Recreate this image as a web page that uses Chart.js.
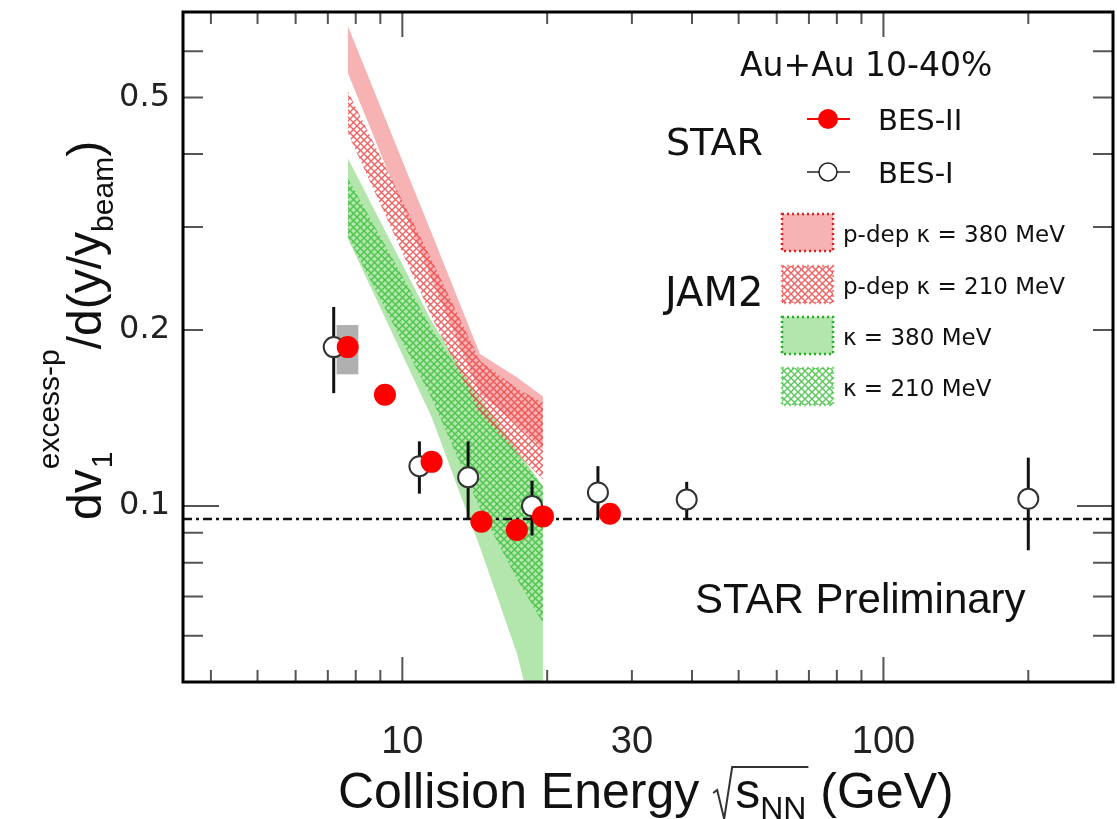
<!DOCTYPE html>
<html>
<head>
<meta charset="utf-8">
<script src="https://cdn.jsdelivr.net/npm/chart.js@4.4.1/dist/chart.umd.min.js"></script>
<style>
  body { margin: 0; background: #fff; }
  canvas { display: block; }
</style>
</head>
<body>
<canvas id="myChart" width="1117" height="819"></canvas>
<script>
// STAR BES-II points (red)
const besIIEnergy = [7.7, 9.2, 11.5, 14.6, 17.3, 19.6, 27];
const besIIValue = [0.187, 0.155, 0.119, 0.094, 0.091, 0.096, 0.097];

// STAR BES-I points (open), drawn a little left of the nominal energy where they share one with BES-II
const besIEnergy = [7.2, 10.85, 13.7, 18.6, 25.5, 39, 200];
const besIValue = [0.187, 0.117, 0.112, 0.100, 0.1055, 0.1026, 0.1029];
const besIErrLow = [0.156, 0.105, 0.095, 0.089, 0.095, 0.095, 0.084];
const besIErrHigh = [0.219, 0.129, 0.129, 0.1105, 0.117, 0.110, 0.121];

// systematic box on the 7.7 GeV point
const sysBoxX = [7.3, 8.1];
const sysBoxY = [0.168, 0.204];

// dash-dotted reference level
const refLevel = 0.095;

// JAM2 bands
const bandEnergy = [7.7, 11.5, 14.5, 17.3, 19.6];
const pdep380Low = [0.551, 0.245, 0.156, 0.138, 0.125];
const pdep380High = [0.663, 0.293, 0.182, 0.166, 0.154];
const pdep210Low = [0.435, 0.211, 0.144, 0.123, 0.111];
const pdep210High = [0.513, 0.264, 0.177, 0.159, 0.150];
const k380Low = [0.287, 0.142, 0.085, 0.056, 0.037];
const k380High = [0.394, 0.207, 0.153, 0.125, 0.108];
const k210Low = [0.289, 0.153, 0.099, 0.075, 0.063];
const k210High = [0.364, 0.201, 0.150, 0.123, 0.108];

// axis ticks
const xLabels = [10, 30, 100];
const xMinorTicks = [4, 5, 6, 7, 8, 9, 20, 30, 40, 50, 60, 70, 80, 90, 200];
const xMajorTicks = [10, 100];
const yLabels = [0.1, 0.2, 0.5];
const yMinorTicks = [0.06, 0.07, 0.08, 0.09, 0.2, 0.3, 0.4, 0.5, 0.6];
const yMajorTicks = [0.1];

const pink = '#f7b3b3';
const lightGreen = '#b3e6ac';

function hatch(color) {
    const c = document.createElement('canvas');
    c.width = 7;
    c.height = 7;
    const g = c.getContext('2d');
    g.strokeStyle = color;
    g.lineWidth = 1.4;
    g.beginPath();
    g.moveTo(-1, -1); g.lineTo(8, 8);
    g.moveTo(8, -1); g.lineTo(-1, 8);
    g.stroke();
    return g.createPattern(c, 'repeat');
}
const redHatch = hatch('rgba(236,70,70,0.85)');
const greenHatch = hatch('rgba(60,190,60,0.85)');

const pts = (xs, ys) => xs.map((x, i) => ({x: x, y: ys[i]}));

const band = (lo, hi, color) => [
    { data: pts(bandEnergy, lo), borderColor: 'rgba(0,0,0,0)', borderWidth: 0, pointRadius: 0, fill: false },
    { data: pts(bandEnergy, hi), borderColor: 'rgba(0,0,0,0)', borderWidth: 0, pointRadius: 0, fill: '-1', backgroundColor: color }
];

function text(c, str, x, y, font, align) {
    c.font = font;
    c.textAlign = align || 'left';
    c.textBaseline = 'alphabetic';
    c.fillText(str, x, y);
    return c.measureText(str).width;
}

// keep the plot frame where it is, no extra room for edge labels
const noEdgePadding = axis => {
    axis.paddingTop = 0;
    axis.paddingBottom = 0;
    axis.paddingLeft = 0;
    axis.paddingRight = 0;
};

const extras = {
    id: 'extras',
    beforeDatasetDraw(chart, args) {
        if (args.index !== 1) return;
        const c = chart.ctx;
        const {x, y} = chart.scales;
        c.save();
        // gray systematic box
        c.fillStyle = '#b0b0b0';
        const bx0 = x.getPixelForValue(sysBoxX[0]), bx1 = x.getPixelForValue(sysBoxX[1]);
        const by0 = y.getPixelForValue(sysBoxY[1]), by1 = y.getPixelForValue(sysBoxY[0]);
        c.fillRect(bx0, by0, bx1 - bx0, by1 - by0);
        // BES-I error bars
        c.strokeStyle = '#111';
        c.lineWidth = 3;
        besIEnergy.forEach((e, i) => {
            const px = x.getPixelForValue(e);
            c.beginPath();
            c.moveTo(px, y.getPixelForValue(besIErrLow[i]));
            c.lineTo(px, y.getPixelForValue(besIErrHigh[i]));
            c.stroke();
        });
        c.restore();
    },
    afterDraw(chart) {
        const c = chart.ctx;
        const {x, y} = chart.scales;
        const a = chart.chartArea;
        c.save();

        // tick marks on all four sides, pointing inward
        c.strokeStyle = '#555';
        c.lineWidth = 2;
        const xt = (vals, len) => vals.forEach(v => {
            const px = x.getPixelForValue(v);
            c.beginPath();
            c.moveTo(px, a.bottom); c.lineTo(px, a.bottom - len);
            c.moveTo(px, a.top); c.lineTo(px, a.top + len);
            c.stroke();
        });
        const yt = (vals, len) => vals.forEach(v => {
            const py = y.getPixelForValue(v);
            c.beginPath();
            c.moveTo(a.left, py); c.lineTo(a.left + len, py);
            c.moveTo(a.right, py); c.lineTo(a.right - len, py);
            c.stroke();
        });
        xt(xMinorTicks, 12);
        xt(xMajorTicks, 25);
        yt(yMinorTicks, 20);
        yt(yMajorTicks, 36);

        // frame
        c.strokeStyle = '#000';
        c.lineWidth = 3;
        c.strokeRect(a.left, a.top, a.right - a.left, a.bottom - a.top);

        c.fillStyle = '#111';

        // y axis title
        c.save();
        c.translate(101, 520);
        c.rotate(-Math.PI / 2);
        let u = 0;
        u += text(c, 'dv', u, 0, '48px "Liberation Sans"');
        text(c, '1', u + 1, 11, '30px "Liberation Sans"');
        u += text(c, 'excess-p', u, -42, '30px "Liberation Sans"');
        u += text(c, '/d(y/y', u, 0, '48px "Liberation Sans"');
        u += text(c, 'beam', u, 12, '30px "Liberation Sans"');
        text(c, ')', u, 0, '48px "Liberation Sans"');
        c.restore();

        // x axis title
        const base = 808;
        let v = 338;
        v += text(c, 'Collision Energy ', v, base, '50px "Liberation Sans"');
        const sqrtStart = v;
        v += 22;
        v += text(c, 's', v, base, '50px "Liberation Sans"');
        v += text(c, 'NN', v, base + 11, '32px "Liberation Sans"');
        c.strokeStyle = '#333';
        c.lineWidth = 2;
        c.beginPath();
        c.moveTo(sqrtStart, base - 15);
        c.lineTo(sqrtStart + 4, base - 18);
        c.lineTo(sqrtStart + 11, base + 11);
        c.lineTo(sqrtStart + 19, base - 41);
        c.lineTo(v + 2, base - 41);
        c.stroke();
        text(c, ' (GeV)', v, base, '50px "Liberation Sans"');

        // legend
        text(c, 'Au+Au 10-40%', 740, 76, '33px "DejaVu Sans"');
        text(c, 'STAR', 666, 155, '38px "DejaVu Sans"');
        text(c, 'JAM2', 665, 306, '40px "DejaVu Sans"');

        c.strokeStyle = '#ff0000';
        c.lineWidth = 2;
        c.beginPath(); c.moveTo(807, 119); c.lineTo(850, 119); c.stroke();
        c.fillStyle = '#ff0000';
        c.beginPath(); c.arc(828, 119, 10, 0, 2 * Math.PI); c.fill();

        c.strokeStyle = '#222';
        c.lineWidth = 1.5;
        c.beginPath(); c.moveTo(807, 172); c.lineTo(850, 172); c.stroke();
        c.fillStyle = '#fff';
        c.beginPath(); c.arc(828, 172, 9, 0, 2 * Math.PI); c.fill(); c.stroke();

        c.fillStyle = '#111';
        text(c, 'BES-II', 878, 130, '29px "DejaVu Sans"');
        text(c, 'BES-I', 878, 183, '29px "DejaVu Sans"');

        const boxes = [
            {y: 214, fill: pink, edge: '#e02020', label: 'p-dep \u03ba = 380 MeV'},
            {y: 266, fill: redHatch, edge: 'rgba(236,70,70,0.6)', label: 'p-dep \u03ba = 210 MeV'},
            {y: 317, fill: lightGreen, edge: '#20b020', label: '\u03ba = 380 MeV'},
            {y: 368, fill: greenHatch, edge: 'rgba(60,190,60,0.6)', label: '\u03ba = 210 MeV'}
        ];
        boxes.forEach(b => {
            c.fillStyle = b.fill;
            c.fillRect(782, b.y, 51, 37);
            c.setLineDash([2, 3]);
            c.strokeStyle = b.edge;
            c.lineWidth = 2.5;
            c.strokeRect(782, b.y, 51, 37);
            c.setLineDash([]);
            c.fillStyle = '#111';
            text(c, b.label, 843, b.y + 28, '23px "DejaVu Sans"');
        });

        text(c, 'STAR Preliminary', 695, 613, '42px "Liberation Sans"');
        c.restore();
    }
};

new Chart(document.getElementById('myChart'), {
    type: 'line',
    data: {
        datasets: [
            {
                label: 'BES-II',
                data: pts(besIIEnergy, besIIValue),
                showLine: false,
                pointRadius: 11,
                pointBackgroundColor: '#ff0000',
                pointBorderColor: '#ff0000',
                pointBorderWidth: 0
            },
            {
                label: 'BES-I',
                data: pts(besIEnergy, besIValue),
                showLine: false,
                pointRadius: 10,
                pointBackgroundColor: '#ffffff',
                pointBorderColor: '#333333',
                pointBorderWidth: 2
            },
            {
                label: 'reference',
                data: [{x: 3.5, y: refLevel}, {x: 300, y: refLevel}],
                borderColor: '#111',
                borderWidth: 2.5,
                borderDash: [9, 4, 3, 4],
                pointRadius: 0,
                fill: false
            },
            ...band(pdep210Low, pdep210High, redHatch),
            ...band(k210Low, k210High, greenHatch),
            ...band(pdep380Low, pdep380High, pink),
            ...band(k380Low, k380High, lightGreen)
        ]
    },
    options: {
        responsive: false,
        animation: false,
        events: [],
        layout: { autoPadding: false, padding: { top: 12, right: 4, left: 0, bottom: 0 } },
        plugins: {
            legend: { display: false },
            tooltip: { enabled: false }
        },
        scales: {
            x: {
                type: 'logarithmic',
                min: 3.5,
                max: 300,
                grid: { display: false, drawTicks: false },
                border: { display: false },
                afterBuildTicks: axis => { axis.ticks = xLabels.map(v => ({value: v})); },
                afterFit: axis => { axis.height = 137; noEdgePadding(axis); },
                ticks: {
                    padding: 38,
                    autoSkip: false,
                    maxRotation: 0,
                    color: '#222',
                    font: { family: 'Liberation Sans', size: 38 },
                    callback: v => String(v)
                }
            },
            y: {
                type: 'logarithmic',
                min: 0.05,
                max: 0.7,
                grid: { display: false, drawTicks: false },
                border: { display: false },
                afterBuildTicks: axis => { axis.ticks = yLabels.map(v => ({value: v})); },
                afterFit: axis => { axis.width = 183; noEdgePadding(axis); },
                ticks: {
                    padding: 13,
                    color: '#222',
                    font: { family: 'DejaVu Sans', size: 32 },
                    callback: v => String(v)
                }
            }
        }
    },
    plugins: [extras]
});
</script>
</body>
</html>
